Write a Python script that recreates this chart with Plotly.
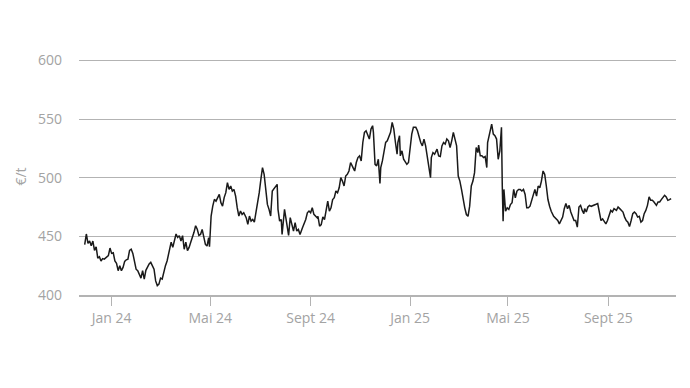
import plotly.graph_objects as go

dates = [
    "2023-11-29","2023-12-01","2023-12-03","2023-12-05","2023-12-07","2023-12-09","2023-12-11","2023-12-13",
    "2023-12-15","2023-12-17","2023-12-19","2023-12-21","2023-12-23","2023-12-25","2023-12-28","2023-12-30",
    "2024-01-01","2024-01-03","2024-01-05","2024-01-07","2024-01-09","2024-01-11","2024-01-13","2024-01-15",
    "2024-01-17","2024-01-19","2024-01-21","2024-01-23","2024-01-25","2024-01-27","2024-01-29","2024-01-31",
    "2024-02-02","2024-02-04","2024-02-06","2024-02-08","2024-02-10","2024-02-12","2024-02-14","2024-02-16",
    "2024-02-18","2024-02-20","2024-02-22","2024-02-24","2024-02-26","2024-02-28","2024-03-01","2024-03-03",
    "2024-03-05","2024-03-07","2024-03-09","2024-03-11","2024-03-14","2024-03-16","2024-03-18","2024-03-20",
    "2024-03-22","2024-03-24","2024-03-26","2024-03-28","2024-03-30","2024-04-01","2024-04-03","2024-04-05",
    "2024-04-07","2024-04-09","2024-04-11","2024-04-13","2024-04-15",
    "2024-04-17","2024-04-19","2024-04-21","2024-04-23","2024-04-25","2024-04-27","2024-04-29","2024-04-30",
    "2024-05-02","2024-05-04","2024-05-06","2024-05-08","2024-05-10","2024-05-12","2024-05-14","2024-05-16",
    "2024-05-18","2024-05-20","2024-05-22","2024-05-24","2024-05-26","2024-05-28","2024-05-30","2024-06-01",
    "2024-06-03","2024-06-05","2024-06-07","2024-06-09","2024-06-11","2024-06-14","2024-06-16","2024-06-18",
    "2024-06-20","2024-06-22","2024-06-24","2024-06-26","2024-06-28","2024-06-30","2024-07-02","2024-07-04",
    "2024-07-06","2024-07-08","2024-07-10","2024-07-12","2024-07-14","2024-07-16","2024-07-18","2024-07-20",
    "2024-07-22","2024-07-23","2024-07-25","2024-07-27","2024-07-28","2024-07-31","2024-08-02","2024-08-04",
    "2024-08-05","2024-08-07","2024-08-09","2024-08-11","2024-08-13","2024-08-15","2024-08-17","2024-08-19",
    "2024-08-22","2024-08-24","2024-08-26","2024-08-28","2024-08-30","2024-09-01","2024-09-03","2024-09-05",
    "2024-09-07","2024-09-09",
    "2024-09-10","2024-09-12","2024-09-14","2024-09-16","2024-09-18","2024-09-20","2024-09-22","2024-09-24",
    "2024-09-26","2024-09-28","2024-09-30","2024-10-02","2024-10-04","2024-10-06","2024-10-08","2024-10-10",
    "2024-10-12","2024-10-14","2024-10-16","2024-10-18","2024-10-20","2024-10-23","2024-10-25","2024-10-27",
    "2024-10-29","2024-10-31","2024-11-02","2024-11-04","2024-11-06","2024-11-08","2024-11-10","2024-11-12",
    "2024-11-14","2024-11-16","2024-11-17","2024-11-19","2024-11-21","2024-11-23","2024-11-25","2024-11-26",
    "2024-11-28","2024-11-30","2024-12-02","2024-12-04","2024-12-06","2024-12-08","2024-12-10","2024-12-12",
    "2024-12-14","2024-12-16","2024-12-17","2024-12-19","2024-12-20","2024-12-22","2024-12-24","2024-12-26",
    "2024-12-28","2024-12-30","2025-01-01","2025-01-03","2025-01-05","2025-01-08","2025-01-10","2025-01-12",
    "2025-01-14","2025-01-16","2025-01-18","2025-01-20","2025-01-22","2025-01-24","2025-01-26","2025-01-27",
    "2025-01-29","2025-01-31","2025-02-02",
    "2025-02-03","2025-02-05","2025-02-07","2025-02-09","2025-02-11","2025-02-13","2025-02-15","2025-02-17",
    "2025-02-19","2025-02-21","2025-02-23","2025-02-25","2025-02-27","2025-03-01","2025-03-03","2025-03-05",
    "2025-03-07","2025-03-09","2025-03-11","2025-03-13","2025-03-15","2025-03-17","2025-03-19","2025-03-21",
    "2025-03-23","2025-03-25","2025-03-26","2025-03-28","2025-03-30","2025-04-01","2025-04-03","2025-04-05",
    "2025-04-06","2025-04-08","2025-04-10","2025-04-11","2025-04-13","2025-04-15","2025-04-17","2025-04-19",
    "2025-04-21","2025-04-23","2025-04-24","2025-04-25","2025-04-26","2025-04-28","2025-04-30","2025-05-02",
    "2025-05-04","2025-05-06","2025-05-08","2025-05-10","2025-05-12","2025-05-14","2025-05-16","2025-05-18",
    "2025-05-20","2025-05-22","2025-05-24","2025-05-26","2025-05-28","2025-05-30","2025-06-01","2025-06-03",
    "2025-06-05","2025-06-07","2025-06-09","2025-06-11","2025-06-13","2025-06-15","2025-06-17","2025-06-19",
    "2025-06-21","2025-06-23","2025-06-26","2025-06-28",
    "2025-06-29","2025-07-01","2025-07-03","2025-07-05","2025-07-07","2025-07-09","2025-07-11","2025-07-13",
    "2025-07-15","2025-07-17","2025-07-19","2025-07-21","2025-07-23","2025-07-25","2025-07-27","2025-07-29",
    "2025-07-31","2025-08-02","2025-08-03","2025-08-05","2025-08-07","2025-08-09","2025-08-11","2025-08-13",
    "2025-08-15","2025-08-17","2025-08-19","2025-08-21","2025-08-23","2025-08-25","2025-08-27","2025-08-29",
    "2025-08-31","2025-09-02","2025-09-04","2025-09-06","2025-09-08","2025-09-11","2025-09-13","2025-09-15",
    "2025-09-17","2025-09-19","2025-09-21","2025-09-23","2025-09-25","2025-09-27","2025-09-29","2025-10-01",
    "2025-10-03","2025-10-05","2025-10-07","2025-10-09","2025-10-11","2025-10-13","2025-10-15","2025-10-17",
    "2025-10-19","2025-10-21","2025-10-23","2025-10-25","2025-10-27","2025-10-29","2025-10-30","2025-11-01",
    "2025-11-03","2025-11-05","2025-11-07","2025-11-09","2025-11-11","2025-11-13","2025-11-15","2025-11-17",
]

prices = [
    443,452,444,446,442,446,438,441,
    431.5,432.6,429,431,430.6,431.5,433.5,440,
    435.5,436,429,427,420.7,425,420.7,423.5,
    428.7,430,430.6,438,439,435.5,427.8,422,
    420.7,417.9,414.4,420.7,413.6,421,424,426.4,
    427.8,425,422,412,408,409.3,414.4,413.6,
    420.7,425,429,436,445,440.6,446,452,
    449,450.6,446,450.6,439,445,437.8,440.6,
    445,449,453.4,459,456,
    450.8,451.6,455.9,449.7,443.1,441.7,448.8,441.1,
    467.3,475.8,481.5,480,483,485.8,478.7,475.8,
    483,487.2,495.7,490,492.9,488.6,490,484.4,
    474.4,467.3,471.6,468.7,470.1,465.9,460.2,467.3,
    463,464.4,462.2,470.1,478.7,487.2,498.6,508.5,
    502.8,490,477.2,473,467.3,488.6,490.6,492.9,
    494.3,473,463,464.4,451.6,473,464.4,453,
    450.8,465.9,458.8,454.5,461.6,454.5,455.9,451.6,
    457.3,460.2,464.4,470.1,471.6,470.1,474.4,468.7,
    467.3,465.9,
    467.1,458.6,460,466.6,464.3,472.9,480,471.4,
    474.3,481.4,482.9,488.6,487.1,491.4,500,497.1,
    492.9,501.4,502.9,505.7,512.9,508.6,505.7,512.9,
    517.1,518.6,514.3,530,538.6,540,537.1,532.9,
    541.4,544.3,538.6,511.4,510,515.7,495.1,508.6,
    514.3,521.4,530,531.4,534.3,538.6,547.1,541.4,
    530,520,530,535.7,518.6,522.9,515.7,512.9,
    511.4,512.9,524.3,537.1,542.9,542.9,540,534.3,
    530,527.1,532.9,527.1,518.6,511.4,500,517.1,
    521.4,520,522.9,
    524.3,518.6,518,527.1,530,528.6,532.9,531.4,
    525.7,531.4,538.6,532.9,527.1,501.4,497.1,490,
    481.4,474.3,468.6,467.1,475.7,492.9,497.1,504.3,
    525.7,521.4,527.7,518.6,518.6,517.1,518,508.6,
    530,537.1,541.4,545.7,537.1,535.7,532.9,515.7,
    522.9,542.9,492.9,462.9,490,471.4,474.3,472.9,
    477.1,478.6,490,482.9,488.6,490,490,488.6,
    490,485.7,474.3,474.3,475.7,480,485.7,490,
    484.3,492.9,491.4,497.1,505.7,502.9,492.9,481.4,
    475.7,471.4,467.1,465.7,
    465,463.5,460.6,463.5,466.4,473.6,477.9,473.6,
    476.4,470.7,466.4,463.5,463.5,457.8,475,476.4,
    472.1,469.3,473.6,470.7,475,476.4,475.6,476.4,
    477,477.3,477.9,470.7,463.5,464.9,462.1,460.6,
    463.5,467.8,472.1,470.7,473.6,472.1,475,473.6,
    472.1,470.7,466.4,463.5,462.1,458.3,463.5,469.3,
    470.7,469.3,466.4,467,462.1,463.5,469.3,472.1,
    476.4,483.6,480.7,480.7,479.3,477.9,476.4,479.3,
    479.3,481.3,483,485,483.6,480.7,481.3,482.2,
]

tick_dates = ["2024-01-01", "2024-05-01", "2024-09-01", "2025-01-01", "2025-05-01", "2025-09-01"]
tick_labels = ["Jan 24", "Mai 24", "Sept 24", "Jan 25", "Mai 25", "Sept 25"]
y_ticks = [400, 450, 500, 550, 600]

grey_text = "#a3a3a3"
grid = "#b3b3b3"

fig = go.Figure(
    go.Scatter(
        x=dates, y=prices, mode="lines",
        line=dict(color="#1a1a1a", width=1.5),
        hoverinfo="x+y",
    )
)

fig.update_layout(
    width=682, height=372,
    margin=dict(l=66, r=14, t=50, b=85),
    paper_bgcolor="white", plot_bgcolor="white",
    showlegend=False,
    font=dict(family="Open Sans", size=14, color=grey_text),
)

fig.update_xaxes(
    type="date",
    range=["2023-11-22", "2025-11-23"],
    tickvals=tick_dates, ticktext=tick_labels,
    ticks="outside", ticklen=9, tickwidth=1.2, tickcolor=grid,
    showline=True, linecolor=grid, linewidth=1.5,
    showgrid=False, zeroline=False,
    tickfont=dict(family="Open Sans", size=14, color=grey_text),
)

fig.update_yaxes(
    range=[400, 602],
    tickvals=y_ticks,
    showgrid=True, gridcolor=grid, gridwidth=1.2,
    zeroline=False, showline=False,
    ticks="", ticklabelstandoff=16,
    tickfont=dict(family="Open Sans", size=14, color=grey_text),
    title=dict(text="€/t", standoff=8, font=dict(family="Open Sans", size=14, color=grey_text)),
)

fig.write_html("out.html")
